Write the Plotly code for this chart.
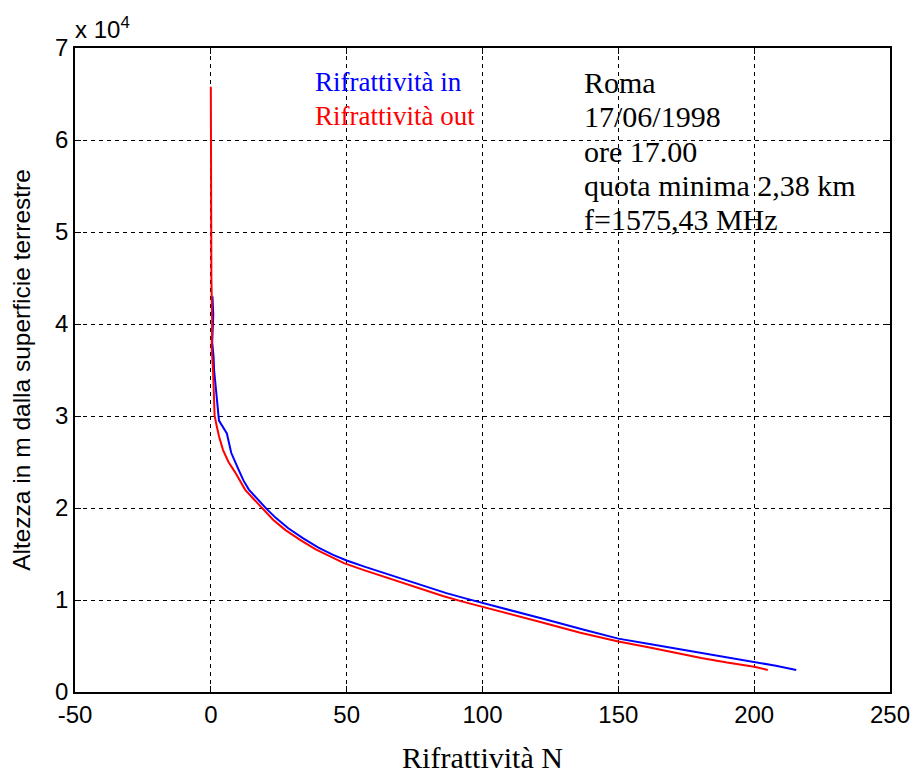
import plotly.graph_objects as go

# Rifrattività out (red)
N_out = [0.0, 0.0, 0.2, 0.5, 0.3, 0.8, 1.2, 1.4, 2.1, 3.0, 4.5, 6.5, 8.9, 10.7, 12.6, 16, 19.4, 23,
         27.5, 33, 38.6, 44, 49, 55.8, 61, 67.3, 76, 85.7, 93, 101, 111, 122, 136, 150, 162, 171,
         180.5, 190, 200, 205]
H_out = [65800, 55000, 45000, 40000, 37500, 35000, 32000, 30000, 29000, 27800, 26300, 25000, 23900,
         23000, 22000, 20900, 19800, 18700, 17600, 16500, 15500, 14700, 14000, 13300, 12800, 12200,
         11300, 10400, 9800, 9200, 8400, 7550, 6450, 5500, 4800, 4250, 3700, 3200, 2750, 2400]

# Rifrattività in (blue)
N_in = [0.6, 0.9, 0.5, 1.0, 1.2, 1.8, 2.3, 3.0, 5.9, 7.5, 10, 12, 14, 17, 20.5, 24, 28.5, 34, 39.6,
        45, 50, 56.8, 62, 68.3, 77, 86.7, 94, 102, 112, 123, 137, 150, 162, 171, 180.5, 190, 200,
        208, 215.5]
H_in = [43000, 41000, 38000, 36500, 35000, 33000, 31000, 29500, 28100, 26000, 24300, 23000, 22000,
        21000, 19900, 18900, 17800, 16700, 15700, 14900, 14300, 13600, 13100, 12500, 11650, 10750,
        10150, 9550, 8750, 7900, 6800, 5800, 5200, 4750, 4300, 3800, 3250, 2850, 2400]

x_ticks = [-50, 0, 50, 100, 150, 200, 250]
y_ticks = [0, 10000, 20000, 30000, 40000, 50000, 60000, 70000]
y_ticktext = ["0", "1", "2", "3", "4", "5", "6", "7"]

info_lines = ["Roma", "17/06/1998", "ore 17.00", "quota minima 2,38 km", "f=1575,43 MHz"]

fig = go.Figure()
fig.add_trace(go.Scatter(x=N_in, y=H_in, mode="lines", line=dict(color="#0000ff", width=2),
                         showlegend=False))
fig.add_trace(go.Scatter(x=N_out, y=H_out, mode="lines", line=dict(color="#ff0000", width=2),
                         showlegend=False))

narrow = "Liberation Sans Narrow, Arial Narrow, Liberation Sans, sans-serif"
sans = "Liberation Sans, Arial, sans-serif"
serif = "Liberation Serif, Times New Roman, serif"

axis_common = dict(
    showline=True, linecolor="black", linewidth=1.5, mirror="ticks",
    ticks="inside", ticklen=6, tickcolor="black", tickwidth=1.2,
    showgrid=True, gridcolor="black", gridwidth=1, griddash="4px,4px",
    zeroline=False, tickfont=dict(family=narrow, size=24, color="black"),
)

fig.update_xaxes(range=[-50, 250], tickvals=x_ticks, ticktext=[str(v) for v in x_ticks],
                 automargin=False,
                 title=dict(text="Rifrattività N", font=dict(family=serif, size=30, color="black"),
                            standoff=20),
                 **axis_common)
fig.update_yaxes(range=[0, 70000], tickvals=y_ticks, ticktext=y_ticktext,
                 title=dict(text="Altezza in m dalla superficie terrestre",
                            font=dict(family=sans, size=24.5, color="black"), standoff=18),
                 **axis_common)

annotations = [
    dict(text="x 10<sup>4</sup>", xref="paper", yref="paper", x=-0.003, y=1.005,
         xanchor="left", yanchor="bottom", showarrow=False,
         font=dict(family=narrow, size=24, color="black")),
    dict(text="Rifrattività in", xref="paper", yref="paper", x=(313 - 75) / 815, y=(692 - 82) / 644,
         xanchor="left", yanchor="middle", showarrow=False,
         font=dict(family=serif, size=27, color="#0000ff")),
    dict(text="Rifrattività out", xref="paper", yref="paper", x=(313 - 75) / 815, y=(692 - 116) / 644,
         xanchor="left", yanchor="middle", showarrow=False,
         font=dict(family=serif, size=27, color="#ff0000")),
]
for i, line in enumerate(info_lines):
    annotations.append(dict(text=line, xref="paper", yref="paper", x=(582 - 75) / 815,
                            y=(692 - (82 + 34.5 * i)) / 644, xanchor="left", yanchor="middle",
                            showarrow=False, font=dict(family=serif, size=30, color="black")))

fig.update_layout(
    width=912, height=776,
    margin=dict(l=75, r=22, t=48, b=84),
    paper_bgcolor="white", plot_bgcolor="white",
    annotations=annotations,
)

fig.write_html("out.html")
